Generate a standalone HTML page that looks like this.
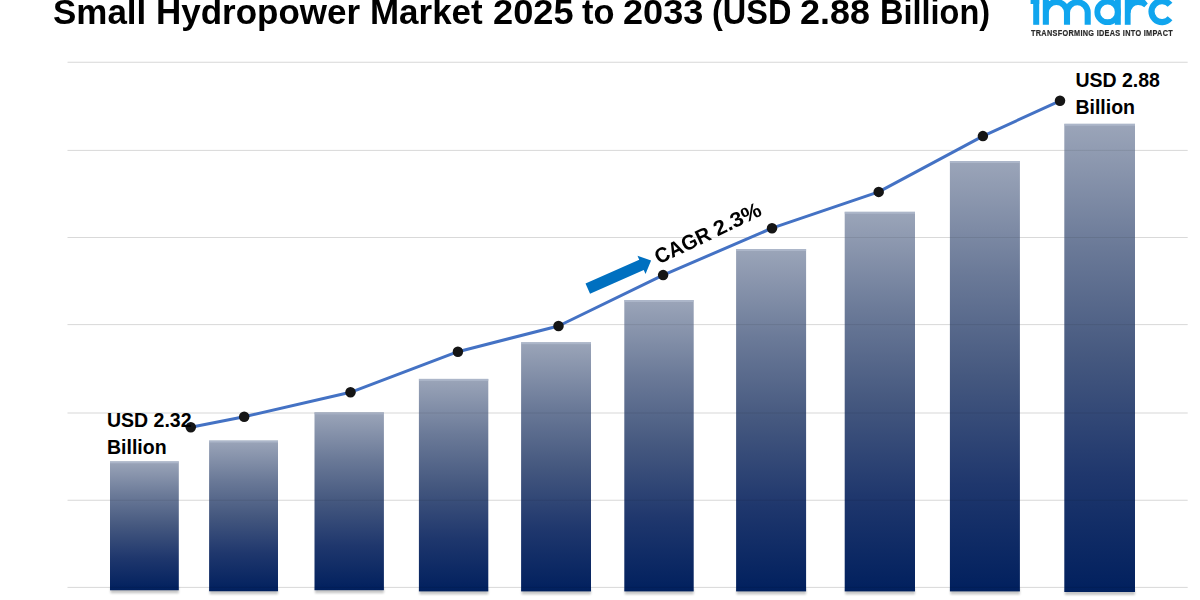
<!DOCTYPE html>
<html><head><meta charset="utf-8"><style>
html,body{margin:0;padding:0;background:#fff;width:1200px;height:600px;overflow:hidden}
svg{position:absolute;left:0;top:0}
.t{position:absolute;white-space:nowrap;font-family:"Liberation Sans",sans-serif;font-weight:bold;color:#000}
</style></head><body>
<svg width="1200" height="600" viewBox="0 0 1200 600">
<defs><linearGradient id="g" x1="0" y1="0" x2="0" y2="1"><stop offset="0" stop-color="#9ba5b9"/><stop offset="0.26" stop-color="#6b7a98"/><stop offset="0.5" stop-color="#45587f"/><stop offset="0.75" stop-color="#1f376d"/><stop offset="1" stop-color="#01205e"/></linearGradient><filter id="sh" x="-10%" y="-150%" width="120%" height="400%"><feGaussianBlur stdDeviation="1.2"/></filter></defs>
<rect x="67.5" y="61.75" width="1120.2" height="1" fill="#ececec"/>
<rect x="67.5" y="149.90" width="1120.2" height="1" fill="#ececec"/>
<rect x="67.5" y="237.00" width="1120.2" height="1" fill="#ececec"/>
<rect x="67.5" y="324.10" width="1120.2" height="1" fill="#ececec"/>
<rect x="67.5" y="412.50" width="1120.2" height="1" fill="#ececec"/>
<rect x="67.5" y="499.75" width="1120.2" height="1" fill="#ececec"/>
<rect x="67.5" y="586.90" width="1120.2" height="1" fill="#ececec"/>
<rect x="110.50" y="587.25" width="68.30" height="6" fill="#000" opacity="0.22" filter="url(#sh)"/>
<rect x="209.60" y="588.25" width="68.40" height="6" fill="#000" opacity="0.22" filter="url(#sh)"/>
<rect x="315.00" y="587.20" width="68.90" height="6" fill="#000" opacity="0.22" filter="url(#sh)"/>
<rect x="419.40" y="588.40" width="68.90" height="6" fill="#000" opacity="0.22" filter="url(#sh)"/>
<rect x="521.60" y="588.40" width="69.40" height="6" fill="#000" opacity="0.22" filter="url(#sh)"/>
<rect x="624.80" y="588.40" width="68.90" height="6" fill="#000" opacity="0.22" filter="url(#sh)"/>
<rect x="736.60" y="588.40" width="69.50" height="6" fill="#000" opacity="0.22" filter="url(#sh)"/>
<rect x="845.20" y="588.40" width="69.80" height="6" fill="#000" opacity="0.22" filter="url(#sh)"/>
<rect x="950.40" y="588.40" width="69.50" height="6" fill="#000" opacity="0.22" filter="url(#sh)"/>
<rect x="1064.80" y="589.00" width="70.20" height="6" fill="#000" opacity="0.22" filter="url(#sh)"/>
<rect x="110.00" y="461.30" width="68.80" height="128.95" fill="url(#g)"/>
<rect x="110.00" y="461.30" width="68.80" height="2" fill="#b4bdd0" opacity="0.7"/>
<rect x="209.10" y="440.50" width="68.90" height="150.75" fill="url(#g)"/>
<rect x="209.10" y="440.50" width="68.90" height="2" fill="#b4bdd0" opacity="0.7"/>
<rect x="314.50" y="412.30" width="69.40" height="177.90" fill="url(#g)"/>
<rect x="314.50" y="412.30" width="69.40" height="2" fill="#b4bdd0" opacity="0.7"/>
<rect x="418.90" y="378.90" width="69.40" height="212.50" fill="url(#g)"/>
<rect x="418.90" y="378.90" width="69.40" height="2" fill="#b4bdd0" opacity="0.7"/>
<rect x="521.10" y="342.20" width="69.90" height="249.20" fill="url(#g)"/>
<rect x="521.10" y="342.20" width="69.90" height="2" fill="#b4bdd0" opacity="0.7"/>
<rect x="624.30" y="300.00" width="69.40" height="291.40" fill="url(#g)"/>
<rect x="624.30" y="300.00" width="69.40" height="2" fill="#b4bdd0" opacity="0.7"/>
<rect x="736.10" y="249.00" width="70.00" height="342.40" fill="url(#g)"/>
<rect x="736.10" y="249.00" width="70.00" height="2" fill="#b4bdd0" opacity="0.7"/>
<rect x="844.70" y="211.80" width="70.30" height="379.60" fill="url(#g)"/>
<rect x="844.70" y="211.80" width="70.30" height="2" fill="#b4bdd0" opacity="0.7"/>
<rect x="949.90" y="161.00" width="70.00" height="430.40" fill="url(#g)"/>
<rect x="949.90" y="161.00" width="70.00" height="2" fill="#b4bdd0" opacity="0.7"/>
<rect x="1064.30" y="123.80" width="70.70" height="468.20" fill="url(#g)"/>
<rect x="1064.30" y="123.80" width="70.70" height="2" fill="#b4bdd0" opacity="0.7"/>
<rect x="67.5" y="61.75" width="1120.2" height="1" fill="#000" opacity="0.08"/>
<rect x="67.5" y="149.90" width="1120.2" height="1" fill="#000" opacity="0.08"/>
<rect x="67.5" y="237.00" width="1120.2" height="1" fill="#000" opacity="0.08"/>
<rect x="67.5" y="324.10" width="1120.2" height="1" fill="#000" opacity="0.08"/>
<rect x="67.5" y="412.50" width="1120.2" height="1" fill="#000" opacity="0.08"/>
<rect x="67.5" y="499.75" width="1120.2" height="1" fill="#000" opacity="0.08"/>
<rect x="67.5" y="586.90" width="1120.2" height="1" fill="#000" opacity="0.08"/>
<polyline points="190.8,427.2 244.2,416.7 350.5,392.3 457.9,351.7 558.5,326 663.1,275.1 772,228.2 878.7,191.9 982.9,136.1 1060,100.8" fill="none" stroke="#4472c4" stroke-width="3" stroke-linejoin="round"/>
<circle cx="190.8" cy="427.2" r="5.25" fill="#151515"/>
<circle cx="244.2" cy="416.7" r="5.25" fill="#151515"/>
<circle cx="350.5" cy="392.3" r="5.25" fill="#151515"/>
<circle cx="457.9" cy="351.7" r="5.25" fill="#151515"/>
<circle cx="558.5" cy="326" r="5.25" fill="#151515"/>
<circle cx="663.1" cy="275.1" r="5.25" fill="#151515"/>
<circle cx="772" cy="228.2" r="5.25" fill="#151515"/>
<circle cx="878.7" cy="191.9" r="5.25" fill="#151515"/>
<circle cx="982.9" cy="136.1" r="5.25" fill="#151515"/>
<circle cx="1060" cy="100.8" r="5.25" fill="#151515"/>
<polygon points="651.10,260.60 645.53,273.99 643.75,269.96 590.04,293.65 585.52,283.40 639.23,259.71 637.46,255.69" fill="#0070c0"/>

<g fill="#10a5ee">
<rect x="1033.2" y="-5" width="6" height="29.8"/>
<rect x="1030.6" y="-5" width="8.6" height="9"/>
<rect x="1114.8" y="-5" width="6" height="29.8"/>
<rect x="1124.8" y="-5" width="5.8" height="29.8"/>
<path d="M1129.6 13 L1130.4 13 Q1132 5 1138 5 Q1141.5 5 1144.3 7.2 L1147.8 3.6 L1141 -5 H1129.6 Z"/>
</g>
<g fill="none" stroke="#10a5ee" stroke-width="6.1" stroke-linecap="butt">
<path d="M1045.85 24.8 V-5 M1045.85 12.6 A10.575 10.575 0 0 1 1067 12.6 V24.8 M1067 12.6 A10.35 10.35 0 0 1 1087.7 12.6 V24.8"/>
<circle cx="1107.6" cy="11.9" r="10.3" stroke-width="5.8"/>

<path d="M1170.04 4.85 A10.5 10.5 0 1 0 1170.04 18.35" stroke-width="6.2"/>
</g>

</svg>
<div class="t" style="left:1031.4px;top:27.9px;font-size:8.3px;line-height:10px;letter-spacing:0.35px;-webkit-text-stroke:0.2px #2a2a2a;transform-origin:0 0;transform:scaleX(0.88);color:#2a2a2a">TRANSFORMING IDEAS INTO IMPACT</div>
<div class="t" style="left:52.99px;top:-8.1px;font-size:34.6px;line-height:40px;transform-origin:0 0;transform:scaleX(1.0107)">Small</div>
<div class="t" style="left:156.32px;top:-8.1px;font-size:34.6px;line-height:40px;transform-origin:0 0;transform:scaleX(1.0116)">Hydropower</div>
<div class="t" style="left:369.83px;top:-8.1px;font-size:34.6px;line-height:40px;transform-origin:0 0;transform:scaleX(1.0106)">Market</div>
<div class="t" style="left:492.59px;top:-8.1px;font-size:34.6px;line-height:40px;transform-origin:0 0;transform:scaleX(1.0482)">2025</div>
<div class="t" style="left:581.70px;top:-8.1px;font-size:34.6px;line-height:40px;transform-origin:0 0;transform:scaleX(0.9951)">to</div>
<div class="t" style="left:622.59px;top:-8.1px;font-size:34.6px;line-height:40px;transform-origin:0 0;transform:scaleX(1.0443)">2033</div>
<div class="t" style="left:712.26px;top:-8.1px;font-size:34.6px;line-height:40px;transform-origin:0 0;transform:scaleX(0.9391)">(USD</div>
<div class="t" style="left:800.00px;top:-8.1px;font-size:34.6px;line-height:40px;transform-origin:0 0;transform:scaleX(1.0377)">2.88</div>
<div class="t" style="left:879.79px;top:-8.1px;font-size:34.6px;line-height:40px;transform-origin:0 0;transform:scaleX(0.9395)">Billion)</div>

<div class="t" id="l1" style="left:107px;top:406.95px;font-size:19.5px;line-height:27.5px;letter-spacing:0px">USD 2.32<br>Billion</div>
<div class="t" id="l2" style="left:1075.4px;top:66.55px;font-size:19.5px;line-height:27.5px;letter-spacing:0px">USD 2.88<br>Billion</div>
<div class="t" id="cagr" style="left:661px;top:244.5px;width:120px;height:24px;font-size:21px;line-height:24px;transform-origin:0 100%;transform:rotate(-25.5deg)"><span style="position:absolute;left:0;top:0;transform-origin:0 50%;transform:scaleX(0.9624)">CAGR</span><span style="position:absolute;left:65.27px;top:0;transform-origin:0 50%;transform:scaleX(1.057)">2.3%</span></div>
</body></html>
